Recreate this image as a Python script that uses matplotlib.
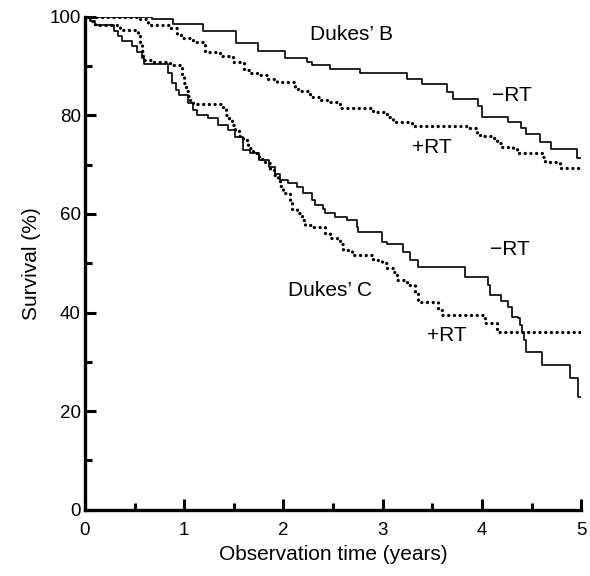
import matplotlib
matplotlib.use("Agg")
import matplotlib.pyplot as plt

plt.rcParams['font.family'] = ['Liberation Sans', 'DejaVu Sans']

# Kaplan-Meier step curves (time in years, survival in %)
b_minus_t = [0, 0.68, 0.89, 1.19, 1.52, 1.74, 2.02, 2.24, 2.29, 2.47, 2.77, 3.25, 3.40, 3.65, 3.71, 3.96, 4.00,
             4.26, 4.39, 4.44, 4.59, 4.70, 4.96, 5.0]
b_minus_s = [100, 99.6, 98.6, 97.0, 94.6, 93.0, 91.6, 90.8, 90.2, 89.3, 88.5, 87.4, 86.4, 84.8, 83.4, 81.8, 79.7,
             78.7, 77.5, 76.3, 74.6, 73.2, 71.4, 71.4]

b_plus_t = [0, 0.52, 0.64, 0.86, 0.93, 0.98, 1.09, 1.21, 1.36, 1.49, 1.60, 1.66, 1.73, 1.83, 1.94, 2.12, 2.15,
            2.27, 2.37, 2.45, 2.57, 2.90, 3.04, 3.07, 3.10, 3.30, 3.86, 3.95, 3.98, 4.11, 4.15, 4.20, 4.31,
            4.35, 4.62, 4.64, 4.77, 4.79, 5.0]
b_plus_s = [100, 99.6, 98.4, 97.8, 96.3, 95.7, 94.9, 92.9, 92.0, 90.9, 89.2, 88.6, 88.2, 87.4, 86.8, 85.8, 85.0,
            83.8, 83.2, 82.6, 81.5, 80.7, 79.7, 79.3, 78.7, 77.9, 77.5, 76.5, 75.9, 75.4, 74.4, 73.6, 73.2,
            72.4, 71.6, 70.6, 70.4, 69.4, 69.4]

c_minus_t = [0, 0.05, 0.10, 0.29, 0.33, 0.37, 0.47, 0.52, 0.57, 0.59, 0.84, 0.88, 0.92, 0.95, 1.04, 1.09, 1.13,
             1.24, 1.34, 1.44, 1.51, 1.59, 1.66, 1.75, 1.85, 1.92, 1.97, 2.05, 2.14, 2.20, 2.29, 2.32, 2.40,
             2.42, 2.52, 2.64, 2.74, 2.75, 2.99, 3.04, 3.20, 3.28, 3.36, 3.83, 4.06, 4.08, 4.19, 4.26, 4.30,
             4.36, 4.38, 4.40, 4.42, 4.44, 4.61, 4.89, 4.97, 5.0]
c_minus_s = [100, 99.2, 98.4, 97.0, 96.0, 95.0, 94.0, 92.8, 91.7, 90.5, 88.5, 86.5, 85.2, 84.2, 82.5, 81.1, 80.1,
             79.5, 78.1, 77.1, 75.7, 73.0, 72.4, 71.0, 69.5, 68.0, 66.9, 66.3, 65.5, 64.3, 62.9, 61.9, 60.9,
             60.2, 59.4, 58.8, 57.4, 56.4, 54.4, 53.8, 52.3, 50.7, 49.3, 47.3, 45.5, 43.6, 42.4, 41.2, 39.1,
             38.9, 37.5, 36.1, 34.5, 32.0, 29.4, 26.8, 22.9, 22.9]

c_plus_t = [0, 0.05, 0.10, 0.35, 0.53, 0.55, 0.57, 0.58, 0.70, 0.86, 0.96, 0.98, 1.00, 1.02, 1.04, 1.06, 1.09,
            1.39, 1.42, 1.45, 1.48, 1.51, 1.55, 1.59, 1.64, 1.69, 1.75, 1.81, 1.86, 1.90, 1.95, 1.97, 2.00,
            2.07, 2.09, 2.14, 2.19, 2.22, 2.29, 2.42, 2.47, 2.54, 2.57, 2.60, 2.69, 2.90, 2.99, 3.04, 3.10,
            3.14, 3.25, 3.33, 3.36, 3.56, 3.60, 4.03, 4.15, 5.0]
c_plus_s = [100, 99.2, 98.4, 97.4, 96.0, 94.5, 93.0, 91.3, 90.8, 90.3, 89.7, 88.0, 86.5, 85.0, 84.0, 83.2, 82.2,
            81.2, 80.1, 79.1, 78.0, 77.0, 75.8, 75.0, 73.4, 72.4, 71.2, 70.4, 69.0, 67.8, 66.9, 65.6, 64.3,
            62.9, 60.9, 60.2, 58.8, 57.8, 57.4, 56.2, 55.2, 54.8, 53.8, 52.7, 51.7, 50.7, 50.1, 49.1, 48.3,
            46.7, 45.6, 44.0, 42.2, 40.6, 39.4, 37.9, 36.1, 36.1]

fig = plt.figure(figsize=(5.9, 5.76), dpi=100)
ax = fig.add_axes([0.144, 0.115, 0.841, 0.856])

solid = dict(where='post', color='black', lw=1.2)
dotted = dict(where='post', color='black', lw=2.4, linestyle=(0, (0.01, 1.7)), dash_capstyle='round')

ax.step(b_minus_t, b_minus_s, **solid)
ax.step(b_plus_t, b_plus_s, **dotted)
ax.step(c_minus_t, c_minus_s, **solid)
ax.step(c_plus_t, c_plus_s, **dotted)

fs = 15
ax.text(2.69, 96.3, "Dukes\u2019 B", fontsize=fs, ha='center', va='center')
ax.text(4.30, 84.0, "\u2212RT", fontsize=fs, ha='center', va='center')
ax.text(3.50, 73.4, "+RT", fontsize=fs, ha='center', va='center')
ax.text(2.47, 44.4, "Dukes\u2019 C", fontsize=fs, ha='center', va='center')
ax.text(4.28, 52.7, "\u2212RT", fontsize=fs, ha='center', va='center')
ax.text(3.65, 35.3, "+RT", fontsize=fs, ha='center', va='center')

ax.set_xlim(0, 5)
ax.set_ylim(0, 100)
ax.set_xticks([0, 1, 2, 3, 4, 5])
ax.set_xticks([0.5, 1.5, 2.5, 3.5, 4.5], minor=True)
ax.set_yticks([0, 20, 40, 60, 80, 100])
ax.set_yticks([10, 30, 50, 70, 90], minor=True)
ax.tick_params(which='major', direction='in', length=8, width=2.2, labelsize=13.5)
ax.tick_params(axis='x', which='major', pad=9)
ax.tick_params(axis='y', which='major', pad=3)
ax.tick_params(which='minor', direction='in', length=5, width=2.2)
for side in ['top', 'right']:
    ax.spines[side].set_visible(False)
for side in ['left', 'bottom']:
    ax.spines[side].set_linewidth(2.4)

ax.set_xlabel("Observation time (years)", fontsize=15, labelpad=4)
ax.set_ylabel("Survival (%)", fontsize=15, labelpad=6)

plt.savefig("out.png", dpi=100)
